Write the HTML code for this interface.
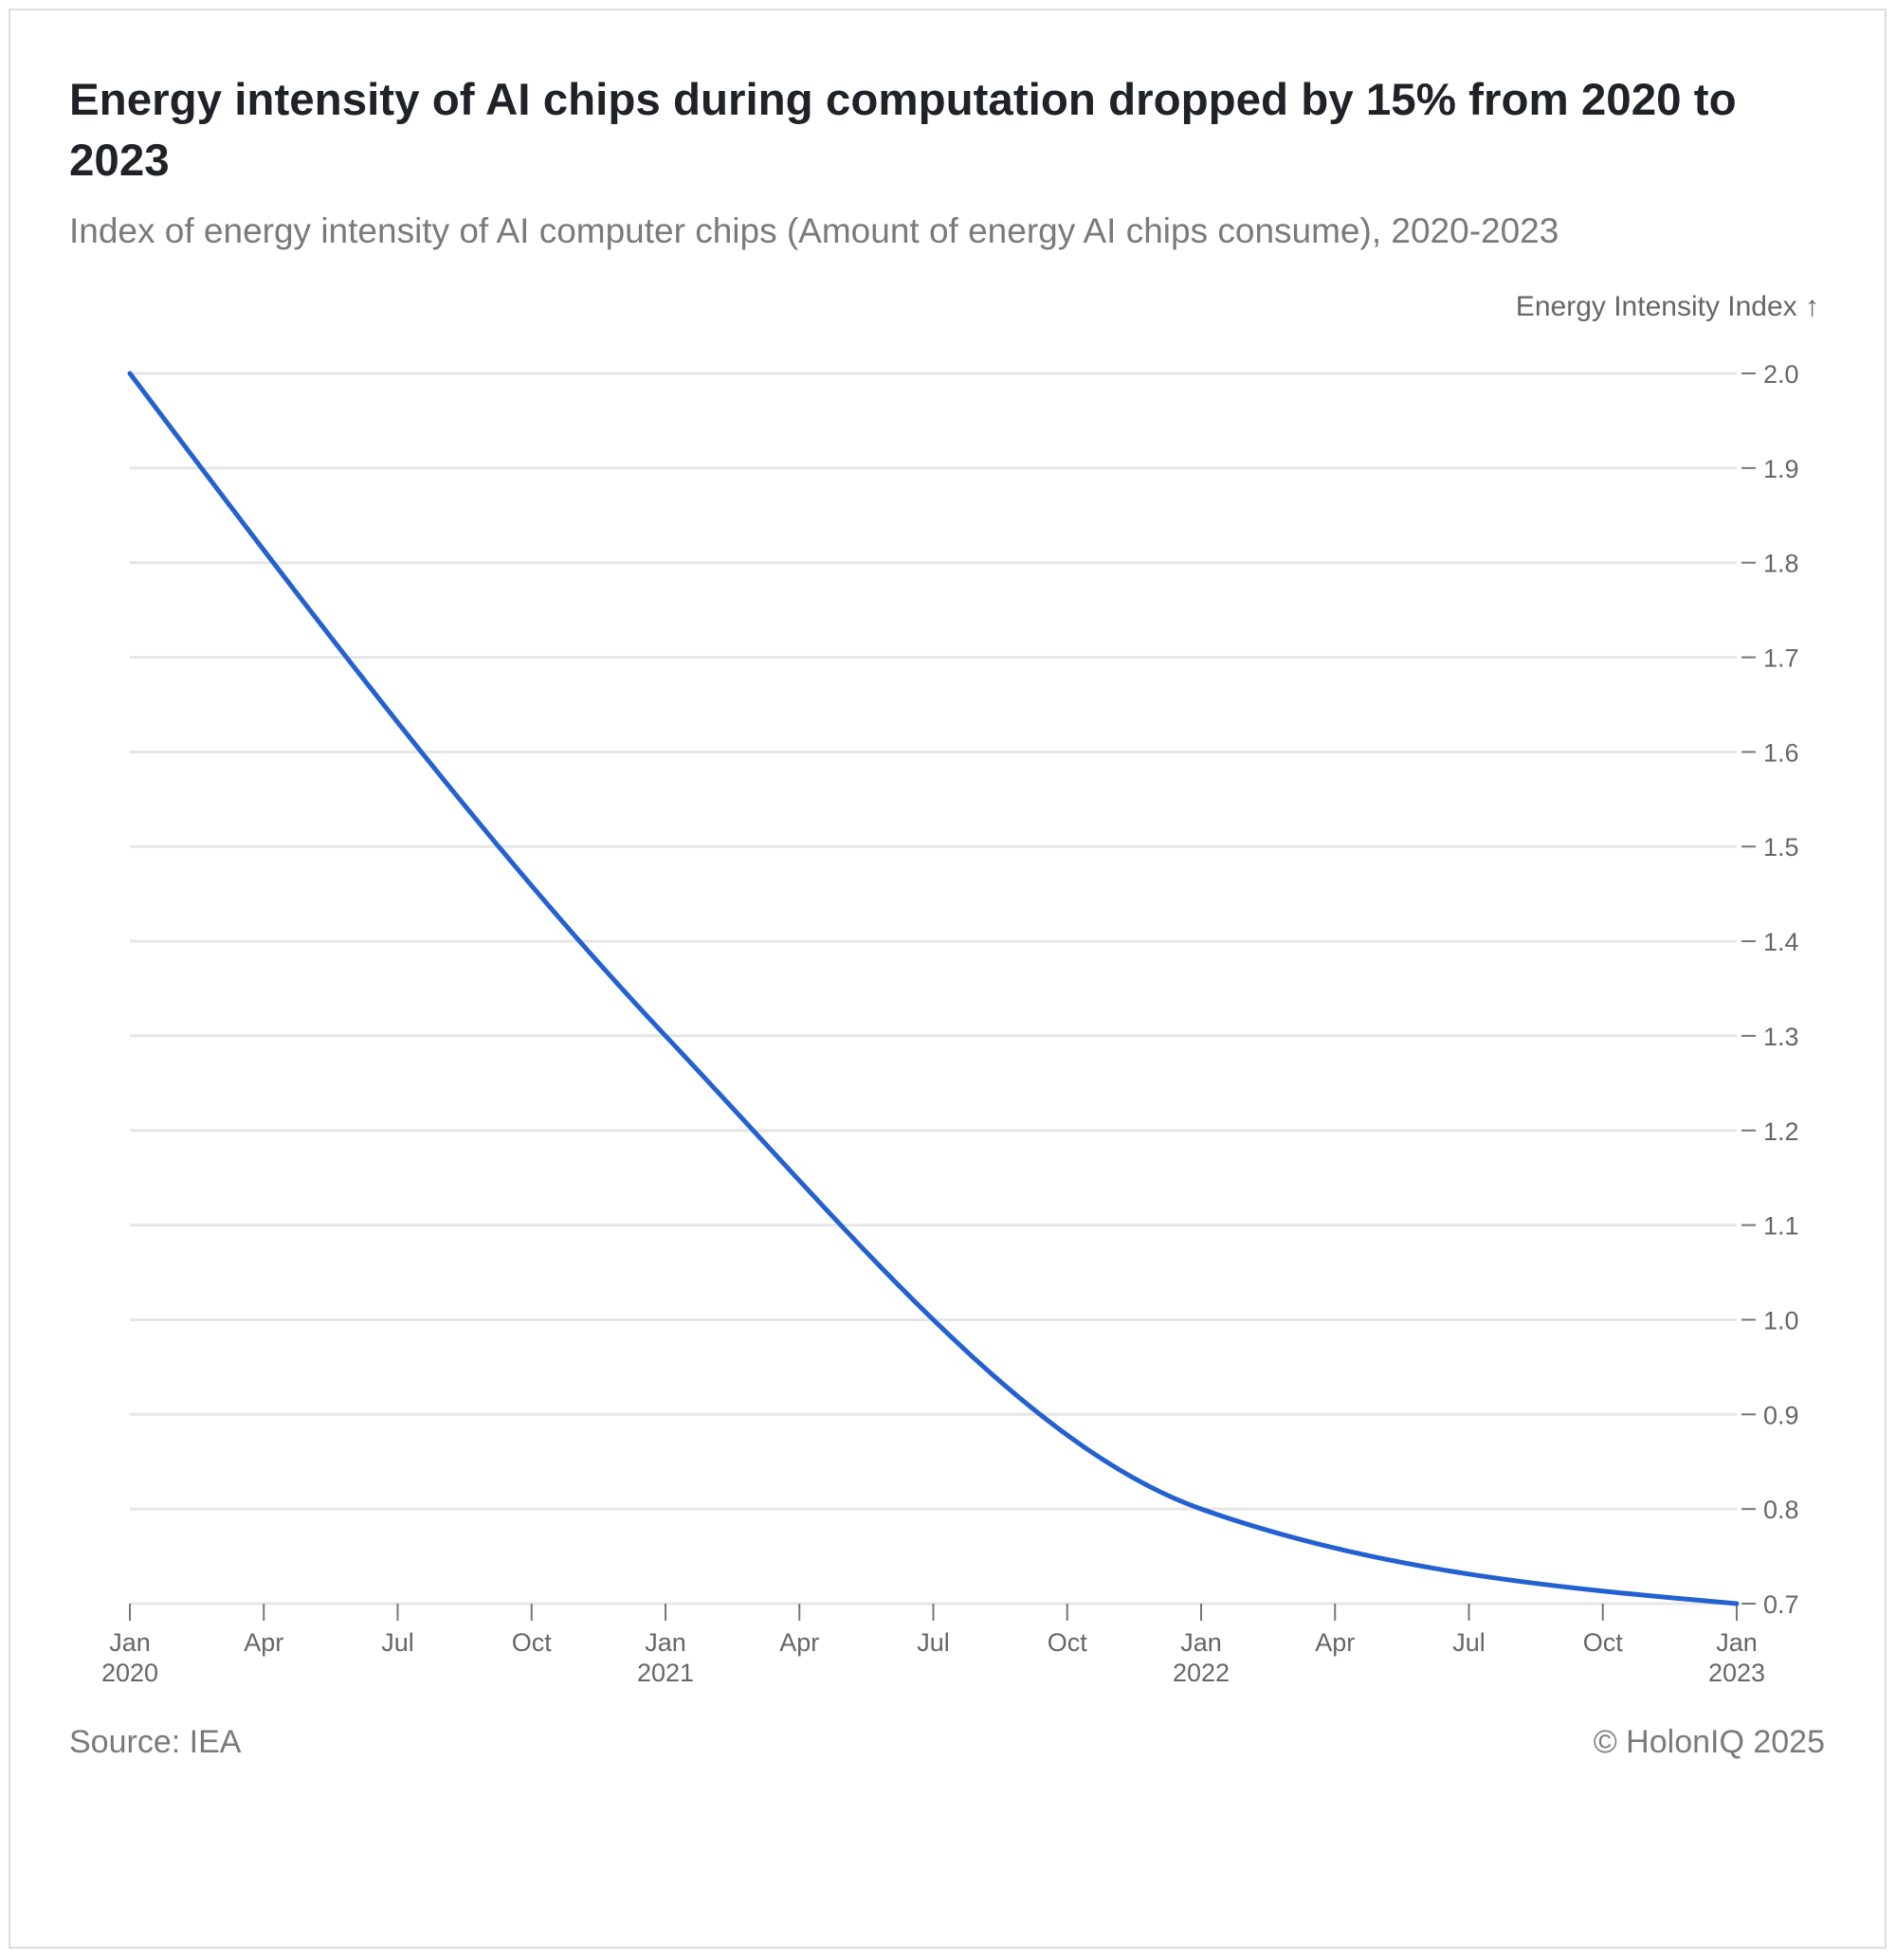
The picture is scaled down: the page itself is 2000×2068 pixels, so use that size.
<!DOCTYPE html>
<html><head><meta charset="utf-8"><style>
body{margin:0;background:#fff;width:2000px;height:2068px;overflow:hidden;font-family:"Liberation Sans",sans-serif}
.frame{position:absolute;left:9px;top:9px;width:1981px;height:2047px;border:2px solid #ddd;box-sizing:border-box}
.t{position:absolute;white-space:nowrap}
</style></head><body>
<div class="frame"></div>
<div class="t" style="left:73px;top:74px;font-size:47.5px;font-weight:bold;color:#1f2328;line-height:64px">Energy intensity of AI chips during computation dropped by 15% from 2020 to<br>2023</div>
<div class="t" style="left:73px;top:223px;font-size:37px;color:#7a7a7a">Index of energy intensity of AI computer chips (Amount of energy AI chips consume), 2020-2023</div>
<div class="t" style="left:73px;top:1819px;font-size:34px;color:#7a7a7a">Source: IEA</div>
<div class="t" style="right:75px;top:1819px;font-size:34px;color:#7a7a7a">© HolonIQ 2025</div>
<svg id="c" width="2000" height="2068" style="position:absolute;left:0;top:0"></svg>
<script>
const years=[2020,2021,2022,2023];
const values=[2.0,1.3,0.8,0.7];
const yTicks=[0.7,0.8,0.9,1.0,1.1,1.2,1.3,1.4,1.5,1.6,1.7,1.8,1.9,2.0];
const xTickMonths=["Jan","Apr","Jul","Oct","Jan","Apr","Jul","Oct","Jan","Apr","Jul","Oct","Jan"];
const xTickYears=["2020","","","","2021","","","","2022","","","","2023"];
const svg=document.getElementById('c');const NS="http://www.w3.org/2000/svg";
const X0=137,X1=1832,Y0=1692,Y1=394;
const xm=i=>X0+(X1-X0)*i/36;
const xy=yr=>X0+(X1-X0)*(yr-2020)/3;
const y=v=>Y0-(Y0-Y1)*(v-0.7)/1.3;
function mk(t,a,p){const e=document.createElementNS(NS,t);for(const k in a)e.setAttribute(k,a[k]);(p||svg).appendChild(e);return e;}
yTicks.forEach(v=>{
 const g=mk('line',{x1:X0,x2:X1,y1:y(v),y2:y(v),stroke:'#e6e6e6','stroke-width':3});
 
 
 mk('line',{x1:X1+5,x2:X1+20,y1:y(v),y2:y(v),stroke:'#777','stroke-width':2});
 const t=mk('text',{x:X1+28,y:y(v)+10,'font-size':27,fill:'#666'});t.textContent=v.toFixed(1);
 
 
});
const at=mk('text',{x:1919,y:333,'font-size':30,fill:'#666','text-anchor':'end'});at.textContent='Energy Intensity Index ↑';


xTickMonths.forEach((m,i)=>{
 const xx=xm(i*3);
 mk('line',{x1:xx,x2:xx,y1:Y0,y2:Y0+18,stroke:'#777','stroke-width':2});
 const t=mk('text',{x:xx,y:1742,'font-size':27,fill:'#666','text-anchor':'middle'});t.textContent=m;
 
 
 if(xTickYears[i]){const t2=mk('text',{x:xx,y:1774,'font-size':27,fill:'#666','text-anchor':'middle'});t2.textContent=xTickYears[i];
 
 }
});
const P=years.map((yr,i)=>[xy(yr),y(values[i])]);
const n=P.length,s=[],tg=[];
for(let i=0;i<n-1;i++)s.push((P[i+1][1]-P[i][1])/(P[i+1][0]-P[i][0]));
for(let i=1;i<n-1;i++){const h0=P[i][0]-P[i-1][0],h1=P[i+1][0]-P[i][0];const p=(s[i-1]*h1+s[i]*h0)/(h0+h1);
 tg[i]=(Math.sign(s[i-1])+Math.sign(s[i]))*Math.min(Math.abs(s[i-1]),Math.abs(s[i]),0.5*Math.abs(p))||0;}
tg[0]=(3*s[0]-tg[1])/2;tg[n-1]=(3*s[n-2]-tg[n-2])/2;
let d='M'+P[0][0]+','+P[0][1];
for(let i=0;i<n-1;i++){const dx=(P[i+1][0]-P[i][0])/3;
 d+=` C${P[i][0]+dx},${P[i][1]+dx*tg[i]} ${P[i+1][0]-dx},${P[i+1][1]-dx*tg[i+1]} ${P[i+1][0]},${P[i+1][1]}`;}
const line=mk('path',{d:d,fill:'none',stroke:'#2461d0','stroke-width':5,'stroke-linejoin':'round','stroke-linecap':'round'});


</script>
</body></html>
